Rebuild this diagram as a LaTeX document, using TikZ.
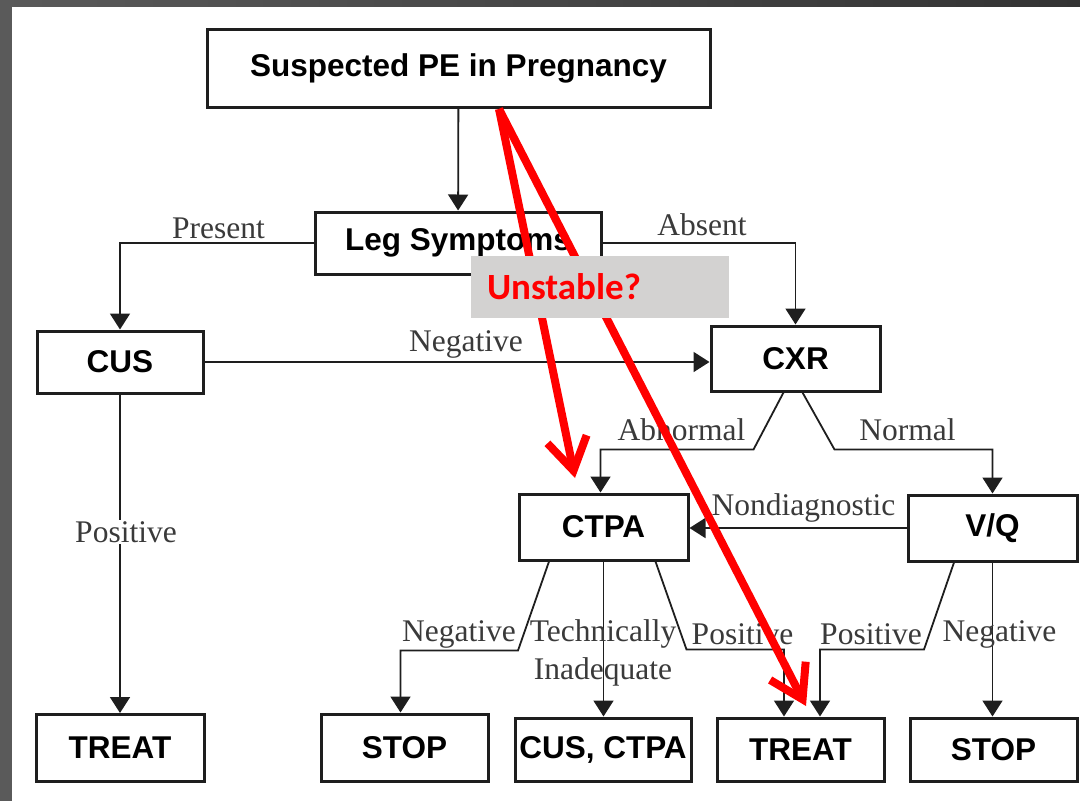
\documentclass[tikz,border=0pt]{standalone}
\usepackage{fontspec}
\setmainfont{Liberation Serif}
\setsansfont{Liberation Sans}
\newfontfamily\notefont{Carlito}
\usetikzlibrary{arrows.meta, positioning, calc}
\usepackage{xcolor}
\definecolor{FrameGray}{HTML}{5A5A5A}
\definecolor{FrameDark}{HTML}{333333}
\definecolor{LineBlack}{HTML}{1E1E1E}
\definecolor{LabelGray}{HTML}{3A3A3A}
\definecolor{NoteGray}{HTML}{D3D2D1}
\definecolor{AlertRed}{HTML}{FF0000}
\tikzset{
    % Box styles
    testbox/.style={
        rectangle,
        draw=LineBlack,
        fill=white,
        line width=3pt,
        inner sep=0pt,
        align=center,
        font=\sffamily\bfseries\fontsize{31.5}{36}\selectfont
    },
    branch/.style={
        inner sep=1pt,
        text=LabelGray,
        align=center,
        font=\rmfamily\fontsize{31.5}{38}\selectfont
    },
    note/.style={
        rectangle,
        fill=NoteGray,
        text=AlertRed,
        minimum width=258pt,
        minimum height=62pt,
        text width=226pt,
        inner xsep=16pt,
        align=left,
        font=\notefont\bfseries\fontsize{37}{40}\selectfont
    },
    % Arrow styles
    arrow/.style={
        -{Triangle[length=16pt,width=20pt]},
        line width=1.8pt,
        draw=LineBlack
    },
    redarrow/.style={
        -{Straight Barb[length=32pt,width=40pt]},
        line width=8pt,
        draw=AlertRed
    }
}
\begin{document}
\begin{tikzpicture}[x=1pt, y=-1pt]
    \useasboundingbox (0,0) rectangle (1080,801);
    \fill[FrameGray] (0,0) rectangle (12,801);
    \shade[left color=FrameGray, right color=FrameDark] (0,0) rectangle (1080,6);

    % tests and outcomes
    \node[testbox, minimum width=503pt, minimum height=78pt] (susp) at (458.5,68) {Suspected PE in Pregnancy};
    \node[testbox, minimum width=286pt, minimum height=62pt] (leg) at (458,243) {Leg Symptoms};
    \node[testbox, minimum width=166pt, minimum height=62pt] (cus) at (120,362) {CUS};
    \node[testbox, minimum width=169pt, minimum height=65pt] (cxr) at (795.5,358.5) {CXR};
    \node[testbox, minimum width=169pt, minimum height=66pt] (ctpa) at (603.5,527) {CTPA};
    \node[testbox, minimum width=169pt, minimum height=66pt] (vq) at (992.5,528) {V/Q};
    \node[testbox, minimum width=168pt, minimum height=67pt] (treata) at (120,748) {TREAT};
    \node[testbox, minimum width=167pt, minimum height=67pt] (stopa) at (404.5,747.5) {STOP};
    \node[testbox, minimum width=176pt, minimum height=63pt] (recheck) at (603,749.5) {CUS, CTPA};
    \node[testbox, minimum width=167pt, minimum height=63pt] (treatb) at (800.5,749.5) {TREAT};
    \node[testbox, minimum width=167pt, minimum height=63pt] (stopb) at (993.5,749.5) {STOP};

    % connectors
    \draw[arrow] (susp) -- (leg);
    \draw[arrow] (leg.west) -| (cus.north);
    \draw[arrow] (leg.east) -| (cxr.north);
    \draw[arrow] (cus.east) -- (cus.east -| cxr.west);
    \draw[arrow] (cus) -- (treata);
    \draw[arrow] ([xshift=-12pt]cxr.south) -- ++(-30,57) -| ([xshift=-3pt]ctpa.north);
    \draw[arrow] ([xshift=7pt]cxr.south) -- ++(32,57) -| (vq.north);
    \draw[arrow] (vq.west) -- (vq.west -| ctpa.east);
    \draw[arrow] ([xshift=-54.5pt]ctpa.south) -- ++(-31,89) -| ([xshift=-4pt]stopa.north);
    \draw[arrow] (ctpa.south) -- (ctpa.south |- recheck.north);
    \draw[arrow] ([xshift=52pt]ctpa.south) -- ++(31,88) -| ([xshift=-16.5pt]treatb.north);
    \draw[arrow] ([xshift=-38.5pt]vq.south) -- ++(-30,87) -| ([xshift=19.5pt]treatb.north);
    \draw[arrow] (vq.south) -- (vq.south |- stopb.north);

    % branch labels
    \node[branch] (present) at (218.5,228) {Present};
    \node[branch] (absent) at (702,225) {Absent};
    \node[branch] (cusneg) at (466,344) {Negative};
    \node[branch, fill=white] (cuspos) at (126,532) {Positive};
    \node[branch] (abnormal) at (681.5,430) {Abnormal};
    \node[branch] (normal) at (907.5,430) {Normal};
    \node[branch] (nondiag) at (803.5,508) {Nondiagnostic};
    \node[branch] (ctpaneg) at (459,634) {Negative};
    \node[branch] (inadequate) at (603,653) {Technically\\Inadequate};
    \node[branch] (ctpapos) at (742.5,634) {Positive};
    \node[branch] (vqpos) at (871,634) {Positive};
    \node[branch] (vqneg) at (999.5,634) {Negative};

    % unstable shortcut
    \coordinate (apex) at (499,109);
    \coordinate (tipa) at (575,478);
    \coordinate (tipb) at (806,706);
    \draw[redarrow] (apex) -- (tipa);
    \draw[redarrow] (apex) -- (tipb);
    \node[note] (unstable) at (600,287) {Unstable?};
\end{tikzpicture}
\end{document}
